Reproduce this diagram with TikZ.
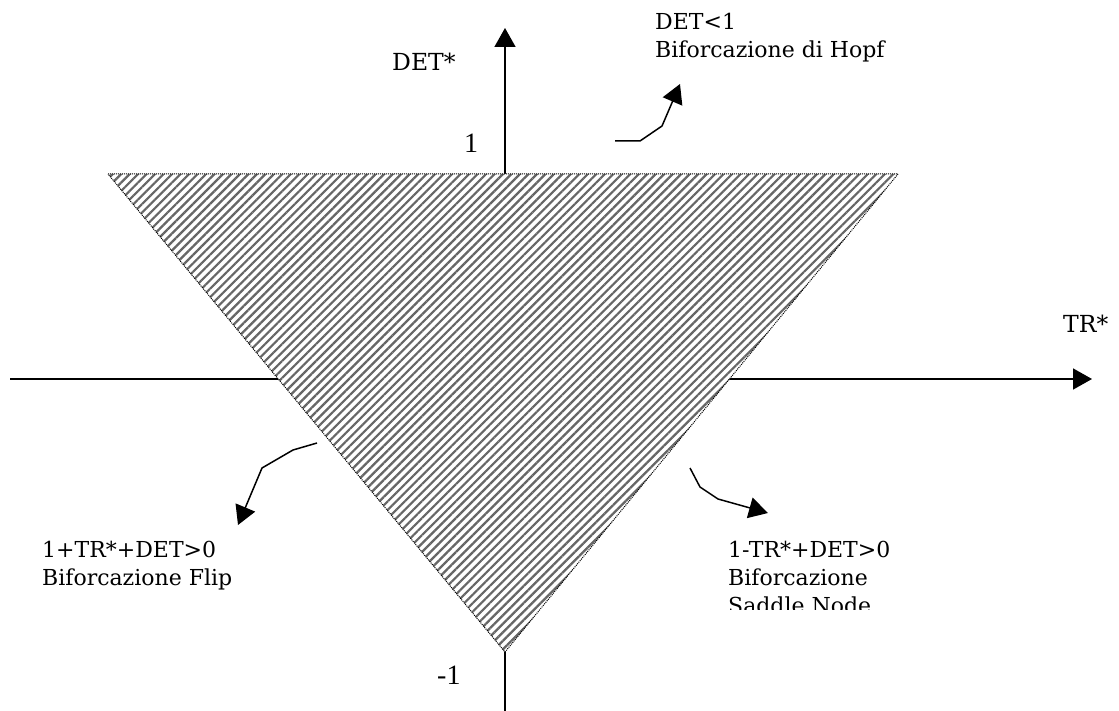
\documentclass[tikz,border=0pt]{standalone}
\usepackage{fontspec}
\setmainfont{DejaVu Serif}
\newfontfamily\numfont{Liberation Serif}
\usetikzlibrary{arrows.meta,patterns.meta}

\begin{document}
\begin{tikzpicture}[x=1pt, y=-1pt, >={Triangle[length=19pt,width=21pt]},
  lbl/.style={inner sep=0pt, anchor=north west, align=left, font=\fontsize{22}{28}\selectfont},
  axlbl/.style={inner sep=0pt, anchor=base west, font=\fontsize{23.5}{26}\selectfont},
  numlbl/.style={inner sep=0pt, anchor=base west, font=\numfont\fontsize{28}{30}\selectfont},
  axis/.style={->, line width=1.6pt},
  callout/.style={->, line width=1.5pt},
  hatch/.style={pattern={Lines[angle=45,distance=6pt,line width=2.2pt]}, pattern color=black!60}]
    \useasboundingbox (0,0) rectangle (1119,711);

    % Axes
    \coordinate (xl) at (10,379);
    \coordinate (xr) at (1092,379);
    \coordinate (yb) at (505,711);
    \coordinate (yt) at (505,28);
    \draw[axis] (xl) -- (xr);
    \draw[axis] (yb) -- (yt);

    % Stability triangle
    \coordinate (tl) at (108,174);
    \coordinate (tr) at (898,174);
    \coordinate (bv) at (505,652);
    \fill[white] (tl) -- (tr) -- (bv) -- cycle;
    \fill[hatch] (tl) -- (tr) -- (bv) -- cycle;
    \draw[densely dotted, line width=1pt] (tl) -- (tr) -- (bv) -- cycle;

    % Axis labels
    \node[axlbl] (dety) at (392,71) {DET*};
    \node[axlbl] (trx) at (1063,333) {TR*};
    \node[numlbl] (one) at (464,153) {1};
    \node[numlbl] (mone) at (437,684) {-1};

    % Bifurcation labels
    \node[lbl] (hopf) at (655,13) {DET<1\\Biforcazione di Hopf};
    \node[lbl] (flip) at (42,541) {1+TR*+DET>0\\Biforcazione Flip};
    \begin{scope}
      \clip (700,520) rectangle (1000,609);
      \node[lbl] (saddle) at (728,541) {1-TR*+DET>0\\Biforcazione\\Saddle Node};
    \end{scope}

    % Callouts
    \coordinate (hopfA) at (615,141);
    \coordinate (hopfB) at (680,84);
    \draw[callout] (hopfA) -- (640,141) -- (662,126) -- (hopfB);
    \coordinate (flipA) at (317,443);
    \coordinate (flipB) at (238,525);
    \draw[callout] (flipA) -- (293,450) -- (262,468) -- (flipB);
    \coordinate (saddleA) at (690,468);
    \coordinate (saddleB) at (768,513);
    \draw[callout] (saddleA) -- (700,487) -- (718,499) -- (saddleB);
\end{tikzpicture}
\end{document}
